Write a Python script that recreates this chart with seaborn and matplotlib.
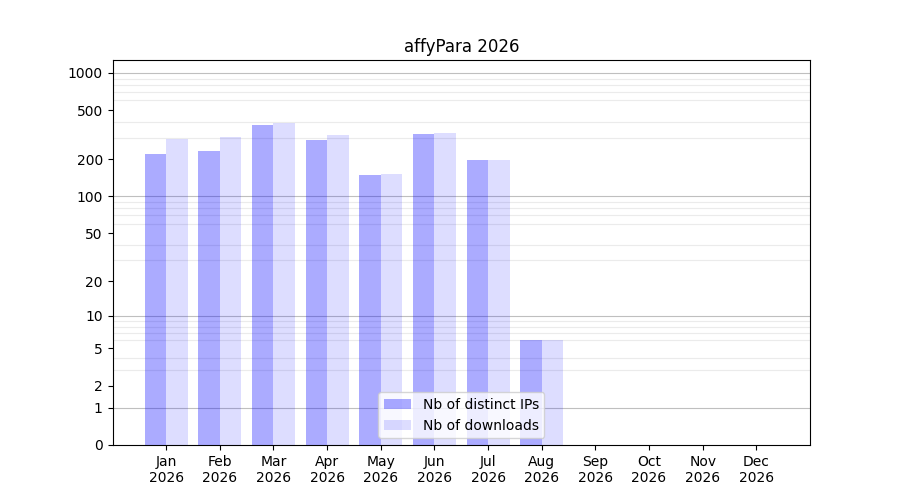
import numpy as np
import pandas as pd
import matplotlib
matplotlib.use("Agg")
import matplotlib.pyplot as plt
import seaborn as sns

months = ["Jan", "Feb", "Mar", "Apr", "May", "Jun",
          "Jul", "Aug", "Sep", "Oct", "Nov", "Dec"]
year = "2026"
distinct_ips = [221, 235, 380, 287, 150, 321, 198, 6, 0, 0, 0, 0]
downloads = [293, 304, 395, 315, 152, 327, 198, 6, 0, 0, 0, 0]
ytick_vals = [0, 1, 2, 5, 10, 20, 50, 100, 200, 500, 1000]

labels = [m + "\n" + year for m in months]
df = pd.DataFrame({
    "month": labels * 2,
    "count": distinct_ips + downloads,
    "kind": ["Nb of distinct IPs"] * 12 + ["Nb of downloads"] * 12,
})

fig, ax = plt.subplots(figsize=(9, 5), dpi=100)
sns.barplot(data=df, x="month", y="count", hue="kind", ax=ax,
            palette=["#0000ff", "#0000ff"], width=0.8, saturation=1,
            errorbar=None, zorder=3)

# translucent blue bars so the grid shows through
for cont, a in zip(ax.containers, [0.33, 0.135]):
    for p in cont:
        p.set_facecolor((0, 0, 1, a))

ax.set_yscale("function", functions=(lambda v: np.log10(np.maximum(v, 0) + 1),
                                     lambda v: 10 ** v - 1))
ax.set_ylim(0, 1270)
ax.set_xlim(-1, 12)
ax.set_yticks(ytick_vals)
ax.set_yticklabels([str(v) for v in ytick_vals])

# grid: light lines at 2..9 of each decade, darker at decades
minor = [k * 10 ** d for d in range(3) for k in range(2, 10)]
ax.set_yticks(minor, minor=True)
ax.tick_params(axis="y", which="minor", length=0)
ax.set_axisbelow(True)
ax.yaxis.grid(True, which="minor", color="#ebebeb", linewidth=0.8)
for v in [1, 10, 100, 1000]:
    ax.axhline(v, color="#bfbfbf", linewidth=0.8, zorder=1)

ax.set_xlabel("")
ax.set_ylabel("")
ax.set_title("affyPara 2026")
leg = ax.legend(loc="lower center", title=None)
for h, a in zip(leg.legend_handles, [0.33, 0.135]):
    h.set_facecolor((0, 0, 1, a))

fig.savefig("out.png", dpi=100)
